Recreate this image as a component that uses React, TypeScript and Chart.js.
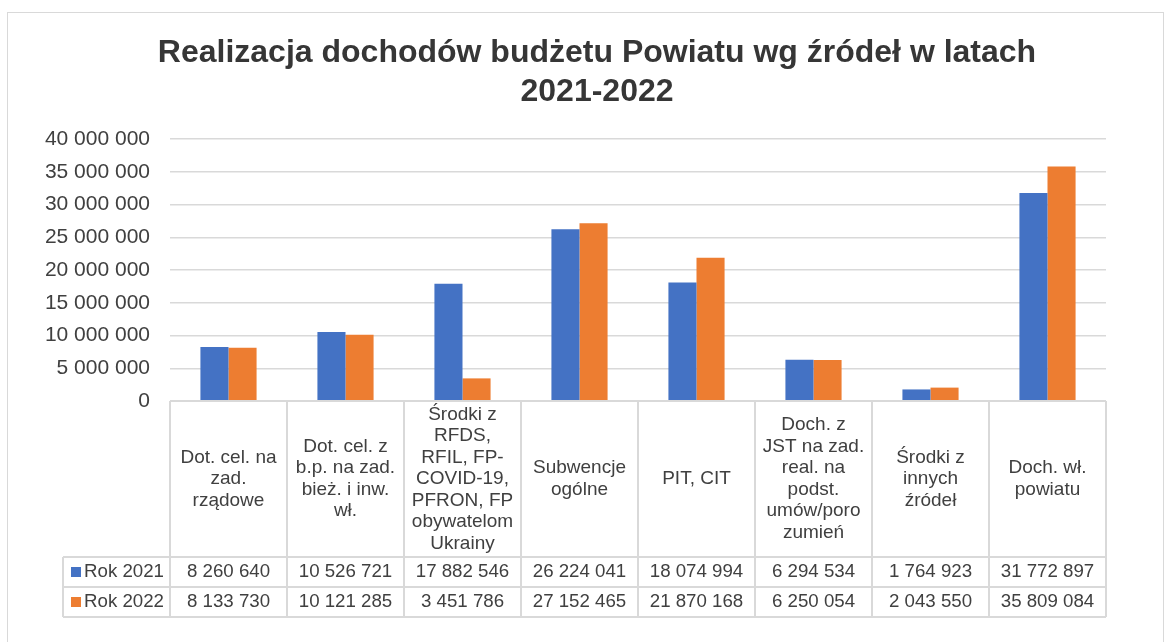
import React, { useEffect, useRef } from "react";
import { Chart, registerables } from "chart.js";

Chart.register(...registerables);

const titleLines = ["Realizacja dochodów budżetu Powiatu wg źródeł w latach", "2021-2022"];

const categories: string[][] = [
  ["Dot. cel. na", "zad.", "rządowe"],
  ["Dot. cel. z", "b.p. na zad.", "bież. i inw.", "wł."],
  ["Środki z", "RFDS,", "RFIL, FP-", "COVID-19,", "PFRON, FP", "obywatelom", "Ukrainy"],
  ["Subwencje", "ogólne"],
  ["PIT, CIT"],
  ["Doch. z", "JST na zad.", "real. na", "podst.", "umów/poro", "zumień"],
  ["Środki z", "innych", "źródeł"],
  ["Doch. wł.", "powiatu"],
];

const seriesNames = ["Rok 2021", "Rok 2022"];
const seriesColors = ["#4472C4", "#ED7D31"];
const values2021 = [8260640, 10526721, 17882546, 26224041, 18074994, 6294534, 1764923, 31772897];
const values2022 = [8133730, 10121285, 3451786, 27152465, 21870168, 6250054, 2043550, 35809084];

const yMin = 0;
const yMax = 40000000;
const yStep = 5000000;

const FONT = "'Liberation Sans', Arial, sans-serif";
const TEXT = "#404040";
const TITLE = "#363636";
const GRID = "#d9d9d9";

const fmt = (n: number) => Math.round(n).toString().replace(/\B(?=(\d{3})+(?!\d))/g, " ");

const tablePlugin = {
  id: "tablePlugin",
  afterDraw(chart: any) {
    const ctx: CanvasRenderingContext2D = chart.ctx;
    const xs = chart.scales.x;
    const area = chart.chartArea;
    const n = categories.length;
    const colW = (xs.right - xs.left) / n;
    const headTop = area.bottom;
    const headBottom = 557;
    const rowH = 30;
    const r1 = headBottom;
    const r2 = r1 + rowH;
    const r3 = r2 + rowH;
    const labelLeft = 63;

    ctx.save();
    // title
    ctx.fillStyle = TITLE;
    ctx.font = `bold 32px ${FONT}`;
    ctx.textAlign = "center";
    ctx.textBaseline = "middle";
    ctx.fillText(titleLines[0], 597, 53);
    ctx.fillText(titleLines[1], 597, 92);

    // grid lines of table
    ctx.strokeStyle = GRID;
    ctx.lineWidth = 2;
    ctx.beginPath();
    ctx.moveTo(xs.left, headTop);
    ctx.lineTo(xs.right, headTop);
    [r1, r2, r3].forEach((y) => {
      ctx.moveTo(labelLeft, y);
      ctx.lineTo(xs.right, y);
    });
    for (let i = 0; i <= n; i++) {
      const x = xs.left + i * colW;
      ctx.moveTo(x, headTop);
      ctx.lineTo(x, r3);
    }
    ctx.moveTo(labelLeft, r1);
    ctx.lineTo(labelLeft, r3);
    ctx.stroke();

    // header text
    ctx.fillStyle = TEXT;
    ctx.font = `19px ${FONT}`;
    const lh = 21.5;
    const hc = (headTop + headBottom) / 2;
    categories.forEach((lines, i) => {
      const cx = xs.getPixelForValue(i);
      const y0 = hc - ((lines.length - 1) * lh) / 2;
      lines.forEach((t, k) => ctx.fillText(t, cx, y0 + k * lh));
    });

    // rows
    ctx.font = `18.7px ${FONT}`;
    const rows = [values2021, values2022];
    rows.forEach((vals, r) => {
      const cy = r1 + rowH * r + rowH / 2;
      ctx.fillStyle = seriesColors[r];
      ctx.fillRect(labelLeft + 8, cy - 5, 10, 10);
      ctx.fillStyle = TEXT;
      ctx.textAlign = "left";
      ctx.fillText(seriesNames[r], labelLeft + 21, cy);
      ctx.textAlign = "center";
      vals.forEach((v, i) => ctx.fillText(fmt(v), xs.getPixelForValue(i), cy));
    });
    ctx.restore();
  },
};

export default function App() {
  const ref = useRef<HTMLCanvasElement>(null);
  useEffect(() => {
    if (!ref.current) return;
    const chart = new Chart(ref.current, {
      type: "bar",
      data: {
        labels: categories.map((c) => c.join(" ")),
        datasets: [
          { label: seriesNames[0], data: values2021, backgroundColor: seriesColors[0], categoryPercentage: 0.48, barPercentage: 1 },
          { label: seriesNames[1], data: values2022, backgroundColor: seriesColors[1], categoryPercentage: 0.48, barPercentage: 1 },
        ],
      },
      options: {
        animation: false,
        responsive: false,
        maintainAspectRatio: false,
        layout: { padding: { left: 0, right: 66, top: 139, bottom: 241 } },
        plugins: {
          legend: { display: false },
          title: { display: false },
          tooltip: { enabled: false },
        },
        scales: {
          x: { display: false },
          y: {
            min: yMin,
            max: yMax,
            afterFit: (s: any) => {
              s.width = 170;
            },
            ticks: {
              stepSize: yStep,
              padding: 20,
              color: TEXT,
              font: { family: FONT, size: 21 },
              callback: (v: any) => fmt(Number(v)),
            },
            grid: { color: GRID, lineWidth: 1.5, drawTicks: false },
            border: { display: false },
          },
        },
      },
      plugins: [tablePlugin],
    });
    return () => chart.destroy();
  }, []);

  return (
    <div style={{ position: "fixed", left: 0, top: 0, width: 1172, height: 642, background: "#fff", overflow: "hidden" }}>
      <div
        style={{
          position: "absolute",
          left: 7,
          top: 12,
          width: 1155,
          height: 700,
          border: `1.5px solid ${GRID}`,
        }}
      />
      <canvas ref={ref} width={1172} height={642} style={{ position: "absolute", left: 0, top: 0 }} />
    </div>
  );
}
